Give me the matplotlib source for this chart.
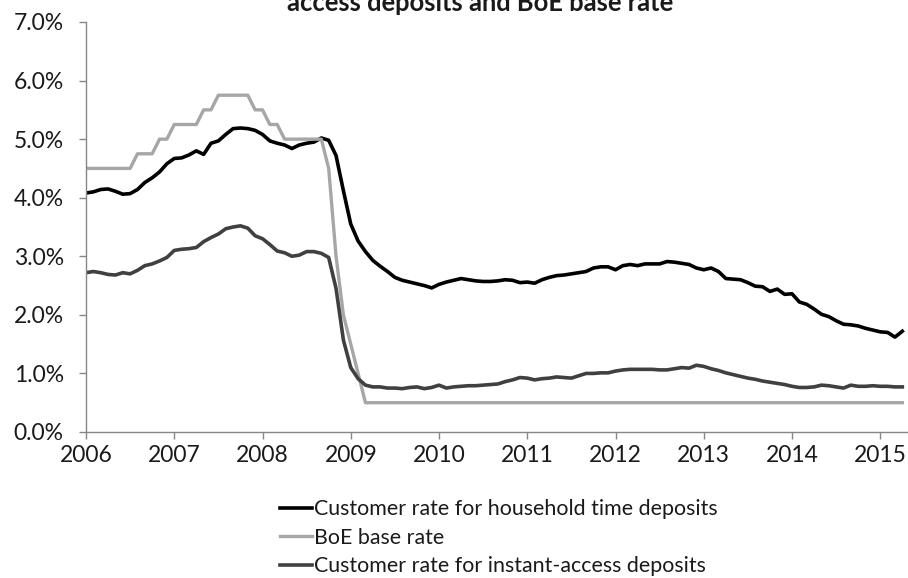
import numpy as np
import matplotlib
matplotlib.use("Agg")
import matplotlib.pyplot as plt
from matplotlib.ticker import FuncFormatter, MultipleLocator

plt.rcParams['font.family'] = ['Lato', 'DejaVu Sans']

# Monthly observations, Jan 2006 onwards (percent)
start_year = 2006

time_deposits = [
    4.08, 4.10, 4.14, 4.15, 4.11, 4.06, 4.07, 4.14, 4.26, 4.34, 4.44, 4.58,
    4.67, 4.68, 4.73, 4.80, 4.74, 4.93, 4.97, 5.08, 5.18, 5.19, 5.18, 5.15,
    5.08, 4.97, 4.93, 4.90, 4.84, 4.90, 4.93, 4.95, 5.02, 4.98, 4.72, 4.12,
    3.55, 3.26, 3.08, 2.93, 2.83, 2.74, 2.64, 2.59, 2.56, 2.53, 2.50, 2.46,
    2.52, 2.56, 2.59, 2.62, 2.60, 2.58, 2.57, 2.57, 2.58, 2.60, 2.59, 2.55,
    2.56, 2.54, 2.60, 2.64, 2.67, 2.68, 2.70, 2.72, 2.74, 2.80, 2.82, 2.82,
    2.77, 2.84, 2.86, 2.84, 2.87, 2.87, 2.87, 2.91, 2.90, 2.88, 2.86, 2.80,
    2.77, 2.80, 2.74, 2.62, 2.61, 2.60, 2.55, 2.49, 2.48, 2.40, 2.44, 2.35,
    2.36, 2.22, 2.18, 2.10, 2.01, 1.97, 1.90, 1.84, 1.83, 1.81, 1.77, 1.74,
    1.71, 1.70, 1.62, 1.72,
]

boe_base_rate = [
    4.50, 4.50, 4.50, 4.50, 4.50, 4.50, 4.50, 4.75, 4.75, 4.75, 5.00, 5.00,
    5.25, 5.25, 5.25, 5.25, 5.50, 5.50, 5.75, 5.75, 5.75, 5.75, 5.75, 5.50,
    5.50, 5.25, 5.25, 5.00, 5.00, 5.00, 5.00, 5.00, 5.00, 4.50, 3.00, 2.00,
    1.50, 1.00, 0.50, 0.50, 0.50, 0.50, 0.50, 0.50, 0.50, 0.50, 0.50, 0.50,
] + [0.50] * 64

instant_access = [
    2.72, 2.74, 2.72, 2.69, 2.68, 2.72, 2.70, 2.76, 2.84, 2.87, 2.92, 2.98,
    3.10, 3.12, 3.13, 3.15, 3.25, 3.32, 3.38, 3.47, 3.50, 3.52, 3.48, 3.35,
    3.30, 3.20, 3.09, 3.06, 3.00, 3.02, 3.08, 3.08, 3.05, 2.98, 2.45, 1.57,
    1.10, 0.91, 0.80, 0.77, 0.77, 0.75, 0.75, 0.74, 0.76, 0.77, 0.74, 0.76,
    0.80, 0.75, 0.77, 0.78, 0.79, 0.79, 0.80, 0.81, 0.82, 0.86, 0.89, 0.93,
    0.92, 0.89, 0.91, 0.92, 0.94, 0.93, 0.92, 0.96, 1.00, 1.00, 1.01, 1.01,
    1.04, 1.06, 1.07, 1.07, 1.07, 1.07, 1.06, 1.06, 1.08, 1.10, 1.09, 1.14,
    1.12, 1.08, 1.05, 1.01, 0.98, 0.95, 0.92, 0.90, 0.87, 0.85, 0.83, 0.81,
    0.78, 0.76, 0.76, 0.77, 0.80, 0.79, 0.77, 0.75, 0.80, 0.78, 0.78, 0.79,
    0.78, 0.78, 0.77, 0.77,
]

series_labels = [
    "Customer rate for household time deposits",
    "BoE base rate",
    "Customer rate for instant-access deposits",
]
year_ticks = list(range(2006, 2016))
title_text = "access deposits and BoE base rate"

months = np.arange(len(time_deposits))
t = start_year + months / 12.0

fig = plt.figure(figsize=(9.08, 5.78), dpi=100)
ax = fig.add_axes([86 / 908, 146 / 578, 822 / 908, 410 / 578])

l1, = ax.plot(t, time_deposits, color="#000000", lw=2.6, solid_joinstyle="round")
l2, = ax.plot(t, boe_base_rate, color="#a6a6a6", lw=2.4, solid_joinstyle="round")
l3, = ax.plot(t, instant_access, color="#404040", lw=2.6, solid_joinstyle="round")

ax.set_xlim(2006, 2006 + 822 / 88.25)
ax.set_ylim(0, 7)
ax.yaxis.set_major_locator(MultipleLocator(1))
ax.yaxis.set_major_formatter(FuncFormatter(lambda v, p: f"{v:.1f}%"))
ax.set_xticks(year_ticks)
ax.set_xticklabels([str(y) for y in year_ticks])

for s in ("top", "right"):
    ax.spines[s].set_visible(False)
for s in ("left", "bottom"):
    ax.spines[s].set_color("#868686")
    ax.spines[s].set_linewidth(1.0)

ax.tick_params(axis="both", colors="#868686", labelcolor="#1a1a1a",
               labelsize=16.5, length=5, width=1.0, direction="out")
ax.tick_params(axis="y", pad=11)
ax.tick_params(axis="x", pad=4)

fig.text(480 / 908, 1 - 11 / 578, title_text, ha="center", va="baseline",
         fontsize=18.4, fontweight="bold", color="#1a1a1a")

fig.legend([l1, l2, l3], series_labels, loc="upper left",
           bbox_to_anchor=(280 / 908, 1 - 499 / 578), frameon=False,
           fontsize=15.4, handlelength=1.5, handletextpad=0.1,
           labelspacing=0.40, borderaxespad=0, borderpad=0,
           labelcolor="#1a1a1a")

fig.savefig("out.png", dpi=100)
